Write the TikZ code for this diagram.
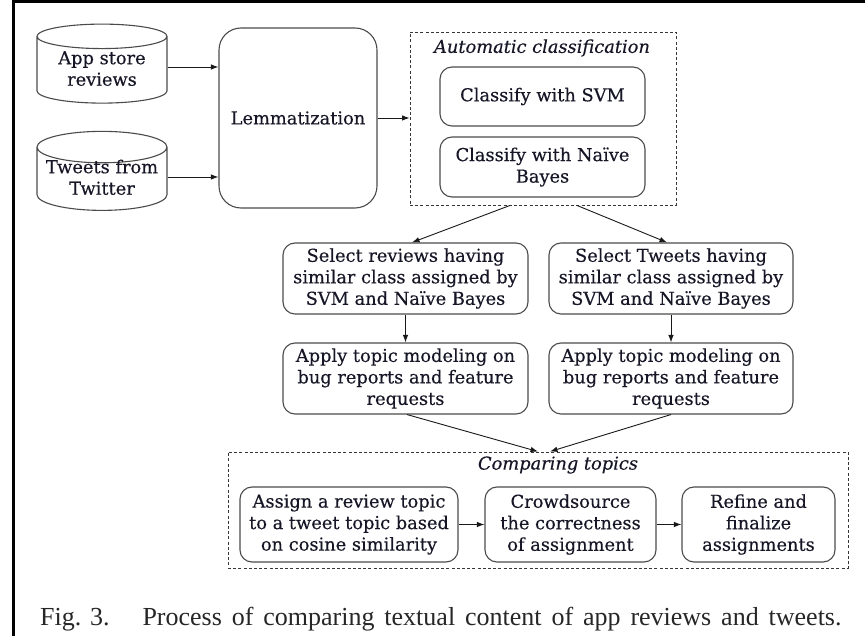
\documentclass[tikz,border=0pt]{standalone}
\usepackage{fontspec}
\setmainfont{DejaVu Serif}[FakeBold=0.35]
\newfontfamily\capfont{Liberation Serif}
\usetikzlibrary{shapes.geometric,arrows.meta}
\definecolor{txt}{RGB}{22,22,38}
\definecolor{bdr}{RGB}{75,75,75}
\definecolor{dsh}{RGB}{55,55,55}
\definecolor{arw}{RGB}{25,25,25}
\newcommand\cyltext[2]{\raisebox{-5pt}[0pt][0pt]{\begin{tabular}{@{}c@{}}#1\\#2\end{tabular}}}
\begin{document}
\begin{tikzpicture}[x=1pt,y=-1pt,
  every node/.style={font=\fontsize{17.8}{21.5}\selectfont, text=txt},
  box/.style={draw=bdr, line width=1.1pt, rounded corners=12pt, align=center, inner sep=0pt},
  grp/.style={draw=dsh, line width=0.9pt, dash pattern=on 3pt off 2.2pt, inner sep=0pt},
  db/.style={cylinder, shape border rotate=90, draw=bdr, line width=1.1pt, aspect=0.28,
             minimum width=130pt, minimum height=79pt, inner sep=0pt},
  ttl/.style={font=\itshape\fontsize{17.8}{20}\selectfont},
  arr/.style={-{Latex[length=7.5pt,width=5.5pt]}, line width=0.9pt, draw=arw}]
\useasboundingbox (0,0) rectangle (865,636);
\draw[line width=3pt] (13.5,636) -- (13.5,1.5) -- (865,1.5);

\node[db] (app) at (102,70) {\cyltext{App store}{reviews}};
\node[db] (tw) at (102,179) {\cyltext{Tweets from}{Twitter}};
\node[box, rounded corners=22pt, minimum width=158pt, minimum height=180pt] (lem) at (298,118) {Lemmatization};

\node[grp, minimum width=266pt, minimum height=173pt] (auto) at (543,118.5) {};
\node[ttl] (autot) at (542,48) {Automatic classification};
\node[box, minimum width=205pt, minimum height=59pt] (svm) at (542.5,96.5) {Classify with SVM};
\node[box, minimum width=205pt, minimum height=60pt] (nb) at (542.5,167) {Classify with Naïve\\Bayes};

\node[box, minimum width=245pt, minimum height=71pt] (sel1) at (405.5,278.5) {Select reviews having\\similar class assigned by\\SVM and Naïve Bayes};
\node[box, minimum width=244pt, minimum height=71pt] (sel2) at (671,278.5) {Select Tweets having\\similar class assigned by\\SVM and Naïve Bayes};
\node[box, minimum width=245pt, minimum height=71pt] (ap1) at (405.5,378.5) {Apply topic modeling on\\bug reports and feature\\requests};
\node[box, minimum width=244pt, minimum height=71pt] (ap2) at (671,378.5) {Apply topic modeling on\\bug reports and feature\\requests};

\node[grp, minimum width=620pt, minimum height=116pt] (cmp) at (538,510) {};
\node[ttl] (cmpt) at (558,465) {Comparing topics};
\node[box, minimum width=218pt, minimum height=75pt] (asg) at (349,524.5) {Assign a review topic\\to a tweet topic based\\on cosine similarity};
\node[box, minimum width=171pt, minimum height=75pt] (crd) at (570.5,524.5) {Crowdsource\\the correctness\\of assignment};
\node[box, minimum width=153pt, minimum height=75pt] (ref) at (758.5,524.5) {Refine and\\finalize\\assignments};

\node[anchor=base west, inner sep=0pt, font=\capfont\fontsize{26}{30}\selectfont, text=black!85] (cap) at (40,625)
  {Fig. 3.\hspace{33pt}\makebox[699pt][s]{Process of comparing textual content of app reviews and tweets.}};

\draw[arr] ([yshift=3pt]app.east) -- ([yshift=3pt]app.east -| lem.west);
\draw[arr] ([yshift=2pt]tw.east) -- ([yshift=2pt]tw.east -| lem.west);
\draw[arr] (lem.east) -- (lem.east -| auto.west);
\draw[arr] ([xshift=-33pt]auto.south) -- ([xshift=6.5pt]sel1.north);
\draw[arr] ([xshift=34pt]auto.south) -- ([xshift=-4pt]sel2.north);
\draw[arr] (sel1.south) -- (ap1.north);
\draw[arr] (sel2.south) -- (ap2.north);
\draw[arr] ([xshift=1.5pt]ap1.south) -- (cmp.north);
\draw[arr] (ap2.south) -- ([xshift=12pt]cmp.north);
\draw[arr] (asg.east) -- (crd.west);
\draw[arr] (crd.east) -- (ref.west);
\end{tikzpicture}
\end{document}
